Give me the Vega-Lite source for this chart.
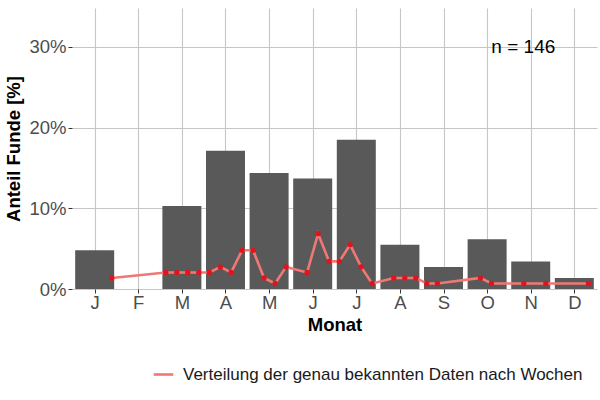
{
  "$schema": "https://vega.github.io/schema/vega-lite/v6.json",
  "width": 525,
  "height": 281,
  "autosize": "none",
  "padding": {"left": 72, "top": 8, "right": 3, "bottom": 111},
  "background": "white",
  "config": {
    "view": {"stroke": null},
    "font": "Liberation Sans",
    "axis": {
      "grid": true,
      "gridColor": "#C6C6C6",
      "gridWidth": 1.1,
      "domain": false,
      "ticks": true,
      "tickColor": "#333333",
      "tickSize": 4,
      "labelFont": "Liberation Sans",
      "labelFontSize": 18.5,
      "labelColor": "#4D4D4D",
      "titleFont": "Liberation Sans",
      "titleFontSize": 18.5,
      "titleFontWeight": "bold",
      "titleColor": "#000000"
    }
  },
  "datasets": {
    "monate": [
      {"monat": 1, "anteil": 4.79},
      {"monat": 2, "anteil": 0},
      {"monat": 3, "anteil": 10.27},
      {"monat": 4, "anteil": 17.12},
      {"monat": 5, "anteil": 14.38},
      {"monat": 6, "anteil": 13.7},
      {"monat": 7, "anteil": 18.49},
      {"monat": 8, "anteil": 5.48},
      {"monat": 9, "anteil": 2.74},
      {"monat": 10, "anteil": 6.16},
      {"monat": 11, "anteil": 3.42},
      {"monat": 12, "anteil": 1.37}
    ],
    "wochen": [
      {"monat": 1.392, "anteil": 1.37},
      {"monat": 2.631, "anteil": 2.05},
      {"monat": 2.883, "anteil": 2.05},
      {"monat": 3.135, "anteil": 2.05},
      {"monat": 3.388, "anteil": 2.05},
      {"monat": 3.631, "anteil": 2.05},
      {"monat": 3.883, "anteil": 2.74},
      {"monat": 4.128, "anteil": 2.05},
      {"monat": 4.381, "anteil": 4.79},
      {"monat": 4.633, "anteil": 4.79},
      {"monat": 4.885, "anteil": 1.37},
      {"monat": 5.138, "anteil": 0.68},
      {"monat": 5.39, "anteil": 2.74},
      {"monat": 5.872, "anteil": 2.05},
      {"monat": 6.124, "anteil": 6.85},
      {"monat": 6.376, "anteil": 3.42},
      {"monat": 6.612, "anteil": 3.42},
      {"monat": 6.858, "anteil": 5.48},
      {"monat": 7.11, "anteil": 2.74},
      {"monat": 7.362, "anteil": 0.68},
      {"monat": 7.86, "anteil": 1.37},
      {"monat": 8.112, "anteil": 1.37},
      {"monat": 8.365, "anteil": 1.37},
      {"monat": 8.617, "anteil": 0.68},
      {"monat": 8.86, "anteil": 0.68},
      {"monat": 9.846, "anteil": 1.37},
      {"monat": 10.099, "anteil": 0.68},
      {"monat": 10.842, "anteil": 0.68},
      {"monat": 11.346, "anteil": 0.68},
      {"monat": 12.323, "anteil": 0.68}
    ],
    "notiz": [
      {"monat": 10.83, "anteil": 30, "label": "n = 146"}
    ]
  },
  "layer": [
    {
      "data": {"name": "monate"},
      "mark": {"type": "bar", "size": 39, "color": "#595959"},
      "encoding": {
        "x": {
          "field": "monat",
          "type": "quantitative",
          "scale": {"domain": [0.48, 12.52], "nice": false, "zero": false, "padding": 0},
          "axis": {
            "values": [1, 2, 3, 4, 5, 6, 7, 8, 9, 10, 11, 12],
            "labelExpr": "['J','F','M','A','M','J','J','A','S','O','N','D'][datum.value - 1]",
            "title": "Monat",
            "labelFontSize": 18.5,
            "titleFontSize": 18.5,
            "labelPadding": 0,
            "titlePadding": 4,
            "labelFlush": false,
            "labelOverlap": false
          }
        },
        "y": {
          "field": "anteil",
          "type": "quantitative",
          "scale": {"domain": [0, 34.8], "nice": false, "padding": 0},
          "axis": {
            "values": [0, 10, 20, 30],
            "labelExpr": "datum.value + '%'",
            "title": "Anteil Funde [%]",
            "labelFontSize": 18.5,
            "titleFontSize": 18.5,
            "labelPadding": 2,
            "titlePadding": 5,
            "labelFlush": false
          }
        }
      }
    },
    {
      "data": {"name": "wochen"},
      "mark": {"type": "line", "strokeWidth": 2.6},
      "encoding": {
        "x": {"field": "monat", "type": "quantitative"},
        "y": {"field": "anteil", "type": "quantitative"},
        "color": {
          "datum": "Verteilung der genau bekannten Daten nach Wochen",
          "type": "nominal",
          "scale": {"range": ["#F07874"]},
          "legend": {
            "title": null,
            "orient": "none",
            "legendX": 80,
            "legendY": 355,
            "symbolType": "stroke",
            "symbolSize": 380,
            "symbolStrokeWidth": 2.6,
            "labelFont": "Liberation Sans",
            "labelFontSize": 17,
            "labelColor": "#1A1A1A",
            "labelOffset": 8,
            "labelLimit": 600
          }
        }
      }
    },
    {
      "data": {"name": "wochen"},
      "mark": {"type": "point", "filled": true, "size": 28, "color": "#E2131C", "opacity": 1},
      "encoding": {
        "x": {"field": "monat", "type": "quantitative"},
        "y": {"field": "anteil", "type": "quantitative"}
      }
    },
    {
      "data": {"name": "notiz"},
      "mark": {"type": "text", "fontSize": 19, "color": "#000000", "font": "Liberation Sans"},
      "encoding": {
        "x": {"field": "monat", "type": "quantitative"},
        "y": {"field": "anteil", "type": "quantitative"},
        "text": {"field": "label"}
      }
    }
  ]
}
